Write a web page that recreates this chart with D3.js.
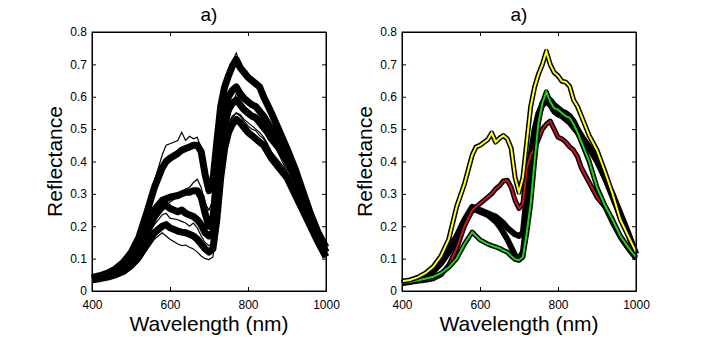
<!DOCTYPE html>
<html>
<head>
<meta charset="utf-8">
<script src="https://cdn.jsdelivr.net/npm/d3@7"></script>
<style>
  body { margin: 0; background: #fff; }
  svg { display: block; font-family: "Liberation Sans", Arial, sans-serif; }
  .tick text { font-size: 12px; fill: #000; }
  .tick line, .domain { stroke: #000; }
</style>
</head>
<body>
<svg id="fig"></svg>
<script>
/*
 Reflectance spectra, two panels
 left: every spectrum in black, right: class means in colour
*/

////////////////////////////////////////////////DATA/////////////////

let wavelengths = [400,420,440,460,480,500,520,540,560,580,590,600,620,630,640,650,660,670,680,690,700,710,720,730,740,750,760,770,780,790,800,810,820,830,840,850,860,880,900,920,940,960,980,1000];

let xTicks = [400, 600, 800, 1000];
let yTicks = [0, 0.1, 0.2, 0.3, 0.4, 0.5, 0.6, 0.7, 0.8];
let panelTitles = ['a)', 'a)'];

// left panel, individual spectra
let spec1 = [.045,.05,.058,.07,.09,.12,.17,.25,.34,.42,.45,.455,.465,.49,.465,.478,.47,.475,.44,.36,.315,.35,.47,.58,.64,.68,.71,.735,.70,.68,.665,.655,.645,.635,.60,.575,.545,.49,.44,.375,.31,.235,.18,.13];
let spec2 = [.042,.047,.055,.068,.088,.118,.165,.24,.32,.38,.40,.41,.425,.435,.44,.445,.45,.45,.43,.36,.31,.34,.46,.57,.63,.665,.695,.715,.69,.675,.66,.65,.64,.63,.60,.575,.55,.495,.44,.38,.31,.24,.18,.135];
let spec3 = [.038,.042,.048,.056,.068,.085,.115,.16,.22,.26,.265,.275,.29,.30,.315,.32,.335,.345,.32,.27,.25,.28,.40,.46,.50,.52,.54,.55,.545,.53,.52,.51,.50,.49,.475,.455,.43,.39,.36,.30,.25,.20,.15,.11];
let spec4 = [.04,.044,.05,.06,.075,.10,.14,.20,.25,.28,.285,.29,.295,.30,.305,.305,.31,.31,.29,.24,.20,.22,.36,.48,.56,.60,.62,.63,.61,.595,.585,.575,.57,.555,.54,.52,.50,.46,.41,.35,.29,.23,.17,.12];
let spec5 = [.038,.042,.048,.057,.07,.092,.13,.18,.23,.26,.265,.255,.245,.25,.24,.235,.23,.22,.205,.18,.17,.18,.30,.43,.52,.56,.58,.59,.575,.56,.55,.54,.535,.52,.505,.49,.47,.44,.40,.35,.29,.23,.17,.12];
let spec6 = [.036,.04,.045,.053,.065,.085,.12,.165,.205,.235,.24,.225,.22,.215,.21,.20,.21,.195,.17,.15,.14,.15,.26,.39,.47,.51,.535,.55,.54,.525,.51,.50,.495,.48,.47,.45,.43,.40,.37,.32,.27,.21,.16,.11];
let spec7 = [.035,.038,.043,.05,.06,.078,.105,.145,.18,.20,.205,.195,.185,.182,.18,.175,.17,.16,.145,.13,.12,.13,.22,.35,.44,.49,.515,.53,.52,.505,.49,.48,.47,.46,.45,.43,.41,.38,.35,.30,.25,.20,.15,.105];
let spec8 = [.033,.036,.04,.046,.054,.068,.09,.125,.16,.18,.17,.16,.145,.14,.142,.135,.13,.12,.108,.10,.097,.105,.19,.30,.42,.52,.58,.61,.59,.57,.56,.55,.545,.535,.52,.50,.47,.42,.37,.31,.26,.20,.15,.11];

// right panel, class means
let meanBlackA = [.025,.03,.038,.05,.065,.09,.13,.17,.22,.26,.255,.25,.24,.235,.23,.22,.21,.195,.185,.175,.17,.18,.30,.42,.50,.55,.575,.585,.575,.555,.545,.54,.53,.52,.505,.49,.47,.44,.40,.35,.30,.24,.18,.115];
let meanBlackB = [.025,.028,.034,.045,.06,.085,.12,.16,.21,.25,.25,.245,.235,.225,.215,.20,.18,.16,.135,.11,.10,.12,.22,.36,.48,.54,.58,.60,.59,.575,.565,.555,.55,.54,.525,.50,.48,.445,.405,.35,.29,.23,.175,.115];
let meanRed = [.025,.027,.03,.033,.038,.05,.08,.13,.20,.25,.26,.27,.29,.30,.315,.325,.34,.342,.32,.28,.255,.27,.38,.42,.44,.47,.50,.515,.525,.50,.475,.47,.46,.445,.435,.415,.38,.335,.29,.26,.21,.165,.13,.10];
let meanGreen = [.025,.028,.033,.038,.044,.055,.073,.10,.145,.182,.17,.158,.145,.14,.136,.132,.125,.12,.108,.098,.095,.105,.18,.27,.40,.52,.58,.615,.585,.565,.56,.55,.54,.535,.515,.49,.46,.40,.32,.265,.22,.17,.135,.105];
let meanYellow = [.03,.034,.042,.055,.075,.108,.16,.26,.33,.42,.445,.45,.468,.488,.46,.472,.48,.47,.44,.35,.305,.35,.46,.57,.63,.67,.70,.74,.70,.675,.665,.648,.645,.632,.59,.57,.54,.48,.435,.37,.30,.22,.17,.12];

let leftThick = [spec2, spec4, spec5, spec7];
let leftThin = [spec1, spec3, spec6, spec8];
let rightBlack = [meanBlackA, meanBlackB];
let rightColour = [meanRed, meanGreen, meanYellow];
let colourNames = ['#c8141e', '#1ed21e', '#ffff1e'];

////////////////////////////////////////////////SETUP/////////////////

let w = 705;
let h = 338;
let yTop = 32, yBottom = 291;
let panelLeft = [92, 402];
let panelWidth = 234;

let svg = d3.select('#fig')
  .attr('width', w)
  .attr('height', h);

let yScale = d3.scaleLinear()
  .domain([0, 0.8])
  .range([yBottom, yTop]);

function yFmt(d) {
  return d === 0 ? '0' : d3.format('.1f')(d);
}

function drawPanel(p) {
  let x0 = panelLeft[p];
  let x1 = x0 + panelWidth;
  let xScale = d3.scaleLinear()
    .domain([400, 1000])
    .range([x0, x1]);

  let g = svg.append('g');

  let line = d3.line()
    .x((d, i) => xScale(wavelengths[i]))
    .y((d) => yScale(d));

  if (p === 0) {
    leftThick.forEach(function(s) {
      g.append('path').attr('d', line(s))
        .attr('fill', 'none').attr('stroke', '#000')
        .attr('stroke-width', 7).attr('stroke-linejoin', 'round');
    });
    leftThin.forEach(function(s) {
      g.append('path').attr('d', line(s))
        .attr('fill', 'none').attr('stroke', '#000')
        .attr('stroke-width', 1.2);
    });
  } else {
    rightBlack.forEach(function(s) {
      g.append('path').attr('d', line(s))
        .attr('fill', 'none').attr('stroke', '#000')
        .attr('stroke-width', 6).attr('stroke-linejoin', 'round');
    });
    rightColour.forEach(function(s, i) {
      g.append('path').attr('d', line(s))
        .attr('fill', 'none').attr('stroke', '#000')
        .attr('stroke-width', 5).attr('stroke-linejoin', 'round');
      g.append('path').attr('d', line(s))
        .attr('fill', 'none').attr('stroke', colourNames[i])
        .attr('stroke-width', 2);
    });
  }

  //AXES, ticks pointing inward on all four sides
  g.append('g')
    .attr('transform', `translate(0, ${yBottom})`)
    .call(d3.axisBottom(xScale).tickValues(xTicks)
      .tickSizeInner(-4).tickSizeOuter(0).tickPadding(9).tickFormat(d3.format('d')));
  g.append('g')
    .attr('transform', `translate(0, ${yTop})`)
    .call(d3.axisTop(xScale).tickValues(xTicks)
      .tickSizeInner(-4).tickSizeOuter(0).tickFormat(''));
  g.append('g')
    .attr('transform', `translate(${x0}, 0)`)
    .call(d3.axisLeft(yScale).tickValues(yTicks)
      .tickSizeInner(-4).tickSizeOuter(0).tickPadding(5).tickFormat(yFmt));
  g.append('g')
    .attr('transform', `translate(${x1}, 0)`)
    .call(d3.axisRight(yScale).tickValues(yTicks)
      .tickSizeInner(-4).tickSizeOuter(0).tickFormat(''));

  g.append('rect')
    .attr('x', x0).attr('y', yTop)
    .attr('width', panelWidth).attr('height', yBottom - yTop)
    .attr('fill', 'none').attr('stroke', '#000');

  // title
  g.append('text')
    .attr('x', (x0 + x1) / 2)
    .attr('y', 21)
    .style('text-anchor', 'middle')
    .style('font-size', '19px')
    .text(panelTitles[p]);

  // x label
  g.append('text')
    .attr('x', (x0 + x1) / 2)
    .attr('y', 331)
    .style('text-anchor', 'middle')
    .style('font-size', '21px')
    .text('Wavelength (nm)');

  // y label
  g.append('text')
    .attr('transform', `translate(${x0 - 30}, ${(yTop + yBottom) / 2}) rotate(-90)`)
    .style('text-anchor', 'middle')
    .style('font-size', '21px')
    .text('Reflectance');
}

drawPanel(0);
drawPanel(1);
</script>
</body>
</html>
